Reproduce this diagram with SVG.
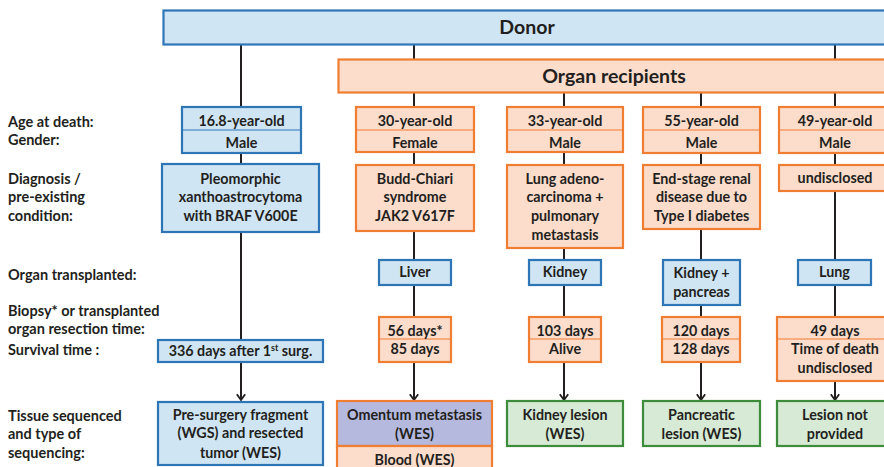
<svg xmlns="http://www.w3.org/2000/svg" width="884" height="467" viewBox="0 0 884 467">
<defs>
<style>
text{font-family:Lato,"Open Sans","Liberation Sans",sans-serif;font-weight:bold;fill:#231f20;}
.c{text-anchor:middle;font-size:14.3px;}
.l{font-size:14.5px;}
.big{text-anchor:middle;font-size:19.5px;}
.blue{fill:#cfe5f4;stroke:#2e75b6;stroke-width:2.2;}
.or{fill:#fcdccb;stroke:#ef7d32;stroke-width:2.2;}
.gr{fill:#d6ead5;stroke:#3c8c3c;stroke-width:2.2;}
.pu{fill:#b5b9de;stroke:#ef7d32;stroke-width:2.2;}
.div{stroke-width:1.2;fill:none;}
.dblue{stroke:#2e75b6;}
.dor{stroke:#ef7d32;}
.ln{stroke:#231f20;stroke-width:2;fill:none;}
</style>
<marker id="arr" viewBox="0 0 10 12" refX="8.5" refY="6" markerWidth="4.2" markerHeight="5" orient="auto" markerUnits="strokeWidth">
<path d="M1.5,1 L8.5,6 L1.5,11" fill="none" stroke="#231f20" stroke-width="2.2"/>
</marker>
</defs>

<g id="connectors">
<line class="ln" x1="241" y1="44" x2="241" y2="340"/>
<line class="ln" x1="241" y1="362" x2="241" y2="400" marker-end="url(#arr)"/>
<line class="ln" x1="414" y1="44" x2="414" y2="59"/>
<line class="ln" x1="835" y1="44" x2="835" y2="59"/>
<line class="ln" x1="414" y1="92" x2="414" y2="317"/>
<line class="ln" x1="414" y1="362" x2="414" y2="400" marker-end="url(#arr)"/>
<line class="ln" x1="564" y1="92" x2="564" y2="317"/>
<line class="ln" x1="564" y1="362" x2="564" y2="400" marker-end="url(#arr)"/>
<line class="ln" x1="701" y1="92" x2="701" y2="317"/>
<line class="ln" x1="701" y1="362" x2="701" y2="400" marker-end="url(#arr)"/>
<line class="ln" x1="835" y1="92" x2="835" y2="317"/>
<line class="ln" x1="835" y1="381" x2="835" y2="400" marker-end="url(#arr)"/>
</g>

<g id="labels">
<text class="l" x="8" y="127">Age at death:</text>
<text class="l" x="8" y="145">Gender:</text>
<text class="l" x="8" y="184">Diagnosis /</text>
<text class="l" x="8" y="202">pre-existing</text>
<text class="l" x="8" y="221">condition:</text>
<text class="l" x="8" y="280">Organ transplanted:</text>
<text class="l" x="8" y="316">Biopsy* or transplanted</text>
<text class="l" x="8" y="334">organ resection time:</text>
<text class="l" x="8" y="355">Survival time :</text>
<text class="l" x="8" y="421">Tissue sequenced</text>
<text class="l" x="8" y="439">and type of</text>
<text class="l" x="8" y="458">sequencing:</text>
</g>

<g id="donor">
<rect class="blue" x="163.5" y="10.5" width="730" height="34"/>
<text class="big" x="527" y="34">Donor</text>
</g>

<g id="recipients">
<rect class="or" x="338.5" y="59.5" width="555" height="33"/>
<text class="big" x="614" y="83">Organ recipients</text>
</g>

<!-- column 1 donor -->
<g id="donor-age">
<rect class="blue" x="182" y="107" width="119" height="46"/>
<line class="div dblue" x1="182" y1="130" x2="301" y2="130"/>
<text class="c" x="241.5" y="126">16.8-year-old</text>
<text class="c" x="241.5" y="148">Male</text>
</g>
<g id="donor-diagnosis">
<rect class="blue" x="162" y="164" width="157" height="68"/>
<text class="c" x="240.5" y="184">Pleomorphic</text>
<text class="c" x="240.5" y="202">xanthoastrocytoma</text>
<text class="c" x="240.5" y="221">with BRAF V600E</text>
</g>
<g id="donor-survival">
<rect class="blue" x="158" y="340" width="165" height="22"/>
<text class="c" x="240.5" y="356">336 days after 1<tspan font-size="9" dy="-5">st</tspan><tspan dy="5"> surg.</tspan></text>
</g>
<g id="donor-tissue">
<rect class="blue" x="158" y="402" width="165" height="63"/>
<text class="c" x="240.5" y="420">Pre-surgery fragment</text>
<text class="c" x="240.5" y="438">(WGS) and resected</text>
<text class="c" x="240.5" y="458">tumor (WES)</text>
</g>

<!-- column 2 -->
<g id="r1-age">
<rect class="or" x="356" y="107" width="118" height="45"/>
<line class="div dor" x1="356" y1="130" x2="474" y2="130"/>
<text class="c" x="415" y="126">30-year-old</text>
<text class="c" x="415" y="148">Female</text>
</g>
<g id="r1-diagnosis">
<rect class="or" x="356" y="165" width="118" height="66"/>
<text class="c" x="415" y="184">Budd-Chiari</text>
<text class="c" x="415" y="202">syndrome</text>
<text class="c" x="415" y="221">JAK2 V617F</text>
</g>
<g id="r1-organ">
<rect class="blue" x="379" y="260" width="72" height="25"/>
<text class="c" x="415" y="277">Liver</text>
</g>
<g id="r1-time">
<rect class="or" x="379" y="317" width="72" height="45"/>
<line class="div dor" x1="379" y1="339" x2="451" y2="339"/>
<text class="c" x="415" y="336">56 days*</text>
<text class="c" x="415" y="354">85 days</text>
</g>
<g id="r1-tissue">
<rect class="pu" x="337" y="401" width="155" height="45"/>
<rect class="or" x="337" y="446" width="155" height="30"/>
<text class="c" x="414.5" y="420">Omentum metastasis</text>
<text class="c" x="414.5" y="439">(WES)</text>
<text class="c" x="414.5" y="465">Blood (WES)</text>
</g>

<!-- column 3 -->
<g id="r2-age">
<rect class="or" x="507" y="107" width="116" height="45"/>
<line class="div dor" x1="507" y1="130" x2="623" y2="130"/>
<text class="c" x="565" y="126">33-year-old</text>
<text class="c" x="565" y="148">Male</text>
</g>
<g id="r2-diagnosis">
<rect class="or" x="507" y="165" width="116" height="83"/>
<text class="c" x="565" y="184">Lung adeno-</text>
<text class="c" x="565" y="202">carcinoma +</text>
<text class="c" x="565" y="221">pulmonary</text>
<text class="c" x="565" y="240">metastasis</text>
</g>
<g id="r2-organ">
<rect class="blue" x="529" y="260" width="72" height="25"/>
<text class="c" x="565" y="277">Kidney</text>
</g>
<g id="r2-time">
<rect class="or" x="529" y="317" width="72" height="45"/>
<line class="div dor" x1="529" y1="339" x2="601" y2="339"/>
<text class="c" x="565" y="336">103 days</text>
<text class="c" x="565" y="354">Alive</text>
</g>
<g id="r2-tissue">
<rect class="gr" x="507" y="401" width="116" height="45"/>
<text class="c" x="565" y="420">Kidney lesion</text>
<text class="c" x="565" y="439">(WES)</text>
</g>

<!-- column 4 -->
<g id="r3-age">
<rect class="or" x="643" y="107" width="117" height="46"/>
<line class="div dor" x1="643" y1="130" x2="760" y2="130"/>
<text class="c" x="701.5" y="126">55-year-old</text>
<text class="c" x="701.5" y="148">Male</text>
</g>
<g id="r3-diagnosis">
<rect class="or" x="643" y="165" width="117" height="64"/>
<text class="c" x="701.5" y="184">End-stage renal</text>
<text class="c" x="701.5" y="202">disease due to</text>
<text class="c" x="701.5" y="221">Type I diabetes</text>
</g>
<g id="r3-organ">
<rect class="blue" x="663" y="260" width="77" height="45"/>
<text class="c" x="701.5" y="278">Kidney +</text>
<text class="c" x="701.5" y="297">pancreas</text>
</g>
<g id="r3-time">
<rect class="or" x="662" y="317" width="78" height="45"/>
<line class="div dor" x1="662" y1="339" x2="740" y2="339"/>
<text class="c" x="701" y="336">120 days</text>
<text class="c" x="701" y="354">128 days</text>
</g>
<g id="r3-tissue">
<rect class="gr" x="643" y="401" width="117" height="45"/>
<text class="c" x="701.5" y="420">Pancreatic</text>
<text class="c" x="701.5" y="439">lesion (WES)</text>
</g>

<!-- column 5 -->
<g id="r4-age">
<rect class="or" x="779" y="107" width="112" height="46"/>
<line class="div dor" x1="779" y1="130" x2="891" y2="130"/>
<text class="c" x="835" y="126">49-year-old</text>
<text class="c" x="835" y="148">Male</text>
</g>
<g id="r4-diagnosis">
<rect class="or" x="779" y="165" width="112" height="26"/>
<text class="c" x="835" y="183">undisclosed</text>
</g>
<g id="r4-organ">
<rect class="blue" x="798" y="260" width="73" height="25"/>
<text class="c" x="834.5" y="277">Lung</text>
</g>
<g id="r4-time">
<rect class="or" x="777" y="317" width="114" height="64"/>
<line class="div dor" x1="777" y1="339" x2="891" y2="339"/>
<text class="c" x="835" y="336">49 days</text>
<text class="c" x="835" y="354">Time of death</text>
<text class="c" x="835" y="373">undisclosed</text>
</g>
<g id="r4-tissue">
<rect class="gr" x="777" y="401" width="114" height="45"/>
<text class="c" x="835" y="420">Lesion not</text>
<text class="c" x="835" y="439">provided</text>
</g>
</svg>
